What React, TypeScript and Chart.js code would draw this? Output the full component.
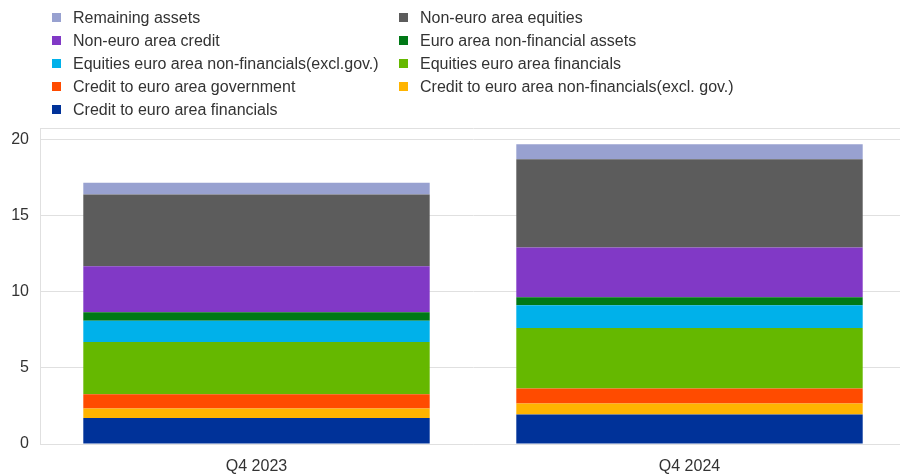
import React, { useEffect, useRef } from "react";
import { Chart, registerables } from "chart.js";

Chart.register(...registerables);

const categories = ["Q4 2023", "Q4 2024"];

const seriesNames = [
  "Credit to euro area financials",
  "Credit to euro area non-financials(excl. gov.)",
  "Credit to euro area government",
  "Equities euro area financials",
  "Equities euro area non-financials(excl.gov.)",
  "Euro area non-financial assets",
  "Non-euro area credit",
  "Non-euro area equities",
  "Remaining assets",
];

const seriesColors = [
  "#003299",
  "#FFB400",
  "#FF4B00",
  "#65B800",
  "#00B1EA",
  "#007816",
  "#8139C6",
  "#5C5C5C",
  "#98A1D0",
];

const creditFinancials = [1.7, 1.94];
const creditNonFinancials = [0.63, 0.72];
const creditGovernment = [0.94, 0.98];
const equitiesFinancials = [3.43, 3.98];
const equitiesNonFinancials = [1.4, 1.49];
const nonFinancialAssets = [0.55, 0.52];
const nonEuroCredit = [3.02, 3.28];
const nonEuroEquities = [4.72, 5.79];
const remainingAssets = [0.76, 0.98];

const seriesValues = [
  creditFinancials,
  creditNonFinancials,
  creditGovernment,
  equitiesFinancials,
  equitiesNonFinancials,
  nonFinancialAssets,
  nonEuroCredit,
  nonEuroEquities,
  remainingAssets,
];

const yTicks = [0, 5, 10, 15, 20];
const yMax = 20.75;

const FONT = 'Arial, "Liberation Sans", sans-serif';

export default function App() {
  const ref = useRef<HTMLCanvasElement | null>(null);

  useEffect(() => {
    if (!ref.current) return;
    const chart = new Chart(ref.current, {
      type: "bar",
      data: {
        labels: categories,
        datasets: seriesNames.map((name, i) => ({
          label: name,
          data: seriesValues[i],
          backgroundColor: seriesColors[i],
          borderWidth: 0,
          categoryPercentage: 1,
          barPercentage: 0.8,
        })),
      },
      options: {
        responsive: false,
        animation: false,
        devicePixelRatio: 1,
        layout: { padding: { top: 128, right: 4, bottom: 2, left: 0 } },
        plugins: {
          legend: { display: false },
          tooltip: { enabled: false },
        },
        scales: {
          x: {
            stacked: true,
            grid: { display: false, drawTicks: false },
            border: { display: true, color: "#e0e0e0" },
            afterFit: (scale: any) => {
              scale.height = 30;
            },
            ticks: {
              color: "#333",
              font: { family: FONT, size: 16 },
              padding: 13,
            },
          },
          y: {
            stacked: true,
            min: 0,
            max: yMax,
            afterBuildTicks: (scale: any) => {
              scale.ticks = [...yTicks, yMax].map((value) => ({ value }));
            },
            afterFit: (scale: any) => {
              scale.width = 40;
            },
            grid: { color: "#e0e0e0", drawTicks: false },
            border: { display: true, color: "#e0e0e0" },
            ticks: {
              color: "#333",
              font: { family: FONT, size: 16 },
              padding: 11,
              callback: (v: any) => (yTicks.includes(Number(v)) ? String(v) : ""),
            },
          },
        },
      },
    });
    return () => chart.destroy();
  }, []);

  const legendOrder = seriesNames.map((_, i) => seriesNames.length - 1 - i);

  return (
    <div
      style={{
        position: "fixed",
        left: 0,
        top: 0,
        width: 910,
        height: 476,
        background: "#fff",
        overflow: "hidden",
      }}
    >
      <canvas ref={ref} width={910} height={476} style={{ position: "absolute", left: 0, top: 0, width: 910, height: 476 }} />
      {legendOrder.map((idx, k) => {
        const col = k % 2;
        const row = Math.floor(k / 2);
        const cy = 17 + 23 * row;
        const boxX = col === 0 ? 52 : 399;
        const textX = col === 0 ? 73 : 420;
        return (
          <React.Fragment key={idx}>
            <div
              style={{
                position: "absolute",
                left: boxX,
                top: cy - 4.5,
                width: 9,
                height: 9,
                background: seriesColors[idx],
              }}
            />
            <div
              style={{
                position: "absolute",
                left: textX,
                top: cy - 11.5,
                height: 23,
                lineHeight: "23px",
                fontFamily: FONT,
                fontSize: 16,
                color: "#333",
                whiteSpace: "nowrap",
              }}
            >
              {seriesNames[idx]}
            </div>
          </React.Fragment>
        );
      })}
    </div>
  );
}
